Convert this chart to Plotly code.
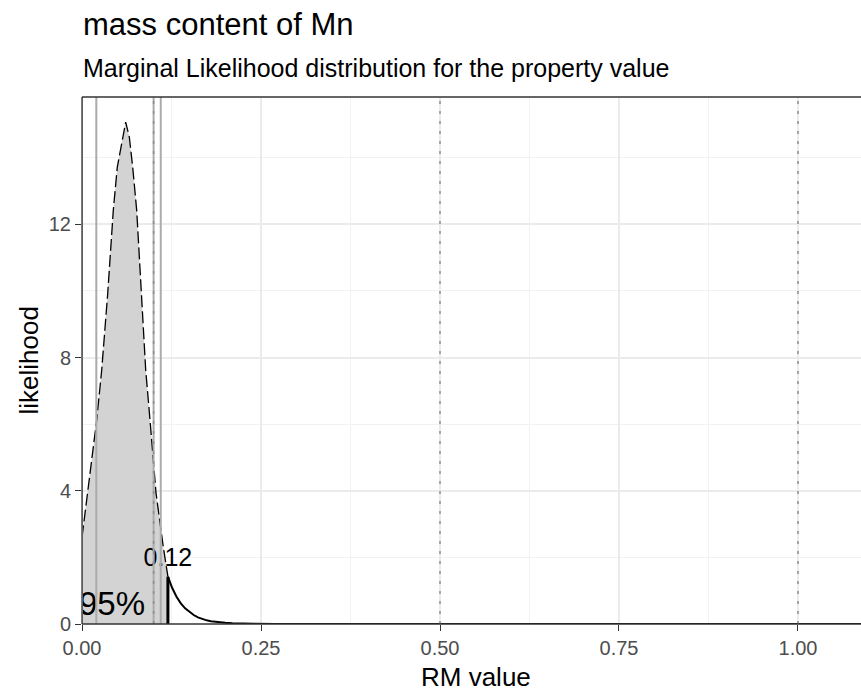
import plotly.graph_objects as go

# Marginal likelihood of the property value (mass content of Mn)
x_density = [0.0, 0.0205, 0.0275, 0.0359, 0.0437, 0.0493, 0.0554, 0.0610,
             0.0661, 0.0708, 0.0764, 0.0834, 0.0890, 0.0950, 0.1034, 0.1135, 0.12]
y_density = [2.60, 6.12, 7.62, 9.92, 12.42, 13.72, 14.42, 15.07,
             14.62, 13.72, 12.42, 9.92, 7.62, 6.12, 3.93, 2.32, 1.42]

# Upper tail beyond the 95% limit
x_tail = [0.12, 0.126, 0.132, 0.138, 0.144, 0.150, 0.156, 0.162, 0.168, 0.174,
          0.180, 0.190, 0.200, 0.210, 0.220, 0.240, 0.270, 0.300, 1.10]
y_tail = [1.42, 1.08, 0.82, 0.62, 0.47, 0.36, 0.27, 0.20, 0.15, 0.11,
          0.085, 0.055, 0.035, 0.022, 0.014, 0.006, 0.002, 0.0, 0.0]

limit_value = 0.12
limit_label = "0.12"
coverage_label = "95%"

ref_lines = [0.0, 0.02, 0.10, 0.11]      # solid grey markers
dotted_lines = [0.10, 0.50, 1.00]        # dotted grey markers

x_ticks = [0.0, 0.25, 0.5, 0.75, 1.0]
x_ticklabels = ["0.00", "0.25", "0.50", "0.75", "1.00"]
y_ticks = [0, 4, 8, 12]
y_ticklabels = ["0", "4", "8", "12"]

x_max = 1.088
y_max = max(y_density) * 1.05

FONT = "Liberation Sans, Arial, sans-serif"

fig = go.Figure()

# shaded 95% region
fig.add_trace(go.Scatter(x=x_density, y=y_density, mode="lines", fill="tozeroy",
                         fillcolor="#D3D3D3", line=dict(width=0), hoverinfo="skip"))

shapes = []
for xv in ref_lines:
    shapes.append(dict(type="line", xref="x", yref="paper", x0=xv, x1=xv, y0=0, y1=1,
                       line=dict(color="#ABABAB", width=2), layer="above"))
for xv in dotted_lines:
    shapes.append(dict(type="line", xref="x", yref="paper", x0=xv, x1=xv, y0=0, y1=1,
                       line=dict(color="#8E8E8E", width=1.5, dash="3px,7px"), layer="above"))

fig.add_trace(go.Scatter(x=x_density, y=y_density, mode="lines",
                         line=dict(color="black", width=1.3, dash="12px,4px"), hoverinfo="skip"))
fig.add_trace(go.Scatter(x=x_tail, y=y_tail, mode="lines",
                         line=dict(color="black", width=2), hoverinfo="skip"))
fig.add_trace(go.Scatter(x=[limit_value, limit_value], y=[0, y_tail[0]], mode="lines",
                         line=dict(color="black", width=3), hoverinfo="skip"))

fig.add_trace(go.Scatter(x=[limit_value], y=[1.92], mode="text", text=[limit_label],
                         textposition="middle center", cliponaxis=True,
                         textfont=dict(family=FONT, size=25, color="black"), hoverinfo="skip"))
fig.add_trace(go.Scatter(x=[0.088], y=[0.52], mode="text", text=[coverage_label],
                         textposition="middle left", cliponaxis=True,
                         textfont=dict(family=FONT, size=33, color="black"), hoverinfo="skip"))

# panel border (left, top, bottom)
border = dict(color="#333333", width=1.3)
shapes += [
    dict(type="line", xref="paper", yref="paper", x0=0, x1=0, y0=0, y1=1, line=border, layer="above"),
    dict(type="line", xref="paper", yref="paper", x0=0, x1=1, y0=1, y1=1, line=border, layer="above"),
    dict(type="line", xref="paper", yref="paper", x0=0, x1=1, y0=0, y1=0, line=border, layer="above"),
]

annotations = [
    dict(text="mass content of Mn", xref="paper", yref="paper", x=0, y=(624 - 24) / 527,
         xanchor="left", yanchor="middle", showarrow=False, xshift=-1,
         font=dict(family=FONT, size=31, color="black")),
    dict(text="Marginal Likelihood distribution for the property value", xref="paper", yref="paper",
         x=0, y=(624 - 68) / 527, xanchor="left", yanchor="middle", showarrow=False, xshift=-1,
         font=dict(family=FONT, size=25, color="black")),
    dict(text="RM value", xref="paper", yref="paper", x=(476 - 82) / 779, y=(624 - 677) / 527,
         xanchor="center", yanchor="middle", showarrow=False,
         font=dict(family=FONT, size=26, color="black")),
    dict(text="likelihood", xref="paper", yref="paper", x=(28 - 82) / 779, y=0.5,
         xanchor="center", yanchor="middle", showarrow=False, textangle=-90,
         font=dict(family=FONT, size=26, color="black")),
]

fig.update_layout(
    width=861, height=691,
    margin=dict(l=82, r=0, t=97, b=67),
    paper_bgcolor="white", plot_bgcolor="white",
    showlegend=False,
    shapes=shapes,
    annotations=annotations,
    xaxis=dict(range=[0, x_max], tickmode="array", tickvals=x_ticks, ticktext=x_ticklabels,
               showgrid=True, gridcolor="#EBEBEB", gridwidth=1.5,
               minor=dict(dtick=0.125, tick0=0, showgrid=True, gridcolor="#F2F2F2", gridwidth=0.8),
               ticks="outside", ticklen=6, tickwidth=1.2, tickcolor="#333333",
               tickfont=dict(family=FONT, size=20, color="#4D4D4D"),
               zeroline=False, showline=False, fixedrange=True),
    yaxis=dict(range=[0, y_max], tickmode="array", tickvals=y_ticks, ticktext=y_ticklabels,
               showgrid=True, gridcolor="#EBEBEB", gridwidth=1.5,
               minor=dict(dtick=2, tick0=0, showgrid=True, gridcolor="#F2F2F2", gridwidth=0.8),
               ticks="outside", ticklen=6, tickwidth=1.2, tickcolor="#333333",
               tickfont=dict(family=FONT, size=20, color="#4D4D4D"),
               zeroline=False, showline=False, fixedrange=True),
)

fig.write_html("out.html")
